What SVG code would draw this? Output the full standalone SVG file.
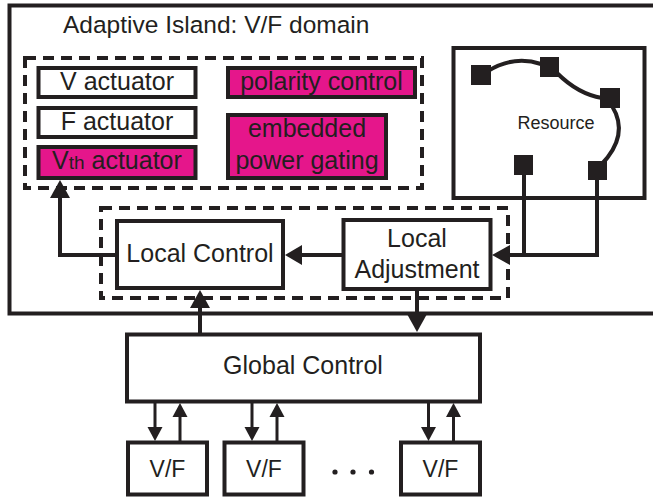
<svg xmlns="http://www.w3.org/2000/svg" width="653" height="501" viewBox="0 0 653 501">
<style>
  text { font-family: "Liberation Sans", Arial, sans-serif; fill: #231f20; }
  .box { fill: #fff; stroke: #231f20; stroke-width: 4; }
  .pink { fill: #e5168b; stroke: #231f20; stroke-width: 4; }
  .dash { fill: none; stroke: #231f20; stroke-width: 4; stroke-dasharray: 11 7; }
  .line { fill: none; stroke: #231f20; stroke-width: 4; }
  .thin { fill: none; stroke: #231f20; stroke-width: 3; }
  .head { fill: #231f20; }
  .sq { fill: #231f20; }
  .t25 { font-size: 25px; }
</style>
<rect width="653" height="501" fill="#fff"/>

<g id="island">
  <rect x="9.5" y="5.5" width="660" height="308" fill="none" stroke="#231f20" stroke-width="4"/>
  <text x="63" y="33" font-size="24.5px">Adaptive Island: V/F domain</text>
</g>

<g id="actuator-group">
  <rect class="dash" x="25" y="58" width="397" height="130"/>
</g>

<g id="v-actuator">
  <rect class="box" x="38.5" y="68" width="157" height="29"/>
  <text class="t25" x="117" y="90" text-anchor="middle">V actuator</text>
</g>
<g id="f-actuator">
  <rect class="box" x="38.5" y="108" width="157" height="29"/>
  <text class="t25" x="117" y="130" text-anchor="middle">F actuator</text>
</g>
<g id="vth-actuator">
  <rect class="pink" x="38.5" y="147" width="157" height="31"/>
  <text class="t25" x="52" y="169">V<tspan font-size="19px">th</tspan> actuator</text>
</g>
<g id="polarity-control">
  <rect class="pink" x="228" y="68" width="187" height="29"/>
  <text class="t25" x="321.5" y="90" text-anchor="middle">polarity control</text>
</g>
<g id="power-gating">
  <rect class="pink" x="228" y="115" width="158" height="63"/>
  <text class="t25" x="307" y="137" text-anchor="middle">embedded</text>
  <text class="t25" x="307" y="169" text-anchor="middle">power gating</text>
</g>

<g id="resource">
  <rect class="box" x="453.5" y="48" width="191" height="150"/>
  <path class="line" d="M488,71 Q514,55 541,64"/>
  <path class="line" d="M557,73 Q578,94 602,98"/>
  <path class="line" d="M612,106 Q630,135 601,165"/>
  <rect class="sq" x="471" y="65" width="20" height="20"/>
  <rect class="sq" x="540" y="57" width="19" height="20"/>
  <rect class="sq" x="600" y="88" width="20" height="20"/>
  <rect class="sq" x="514" y="155" width="19" height="20"/>
  <rect class="sq" x="588" y="161" width="19" height="19"/>
  <text x="556" y="129" font-size="18px" text-anchor="middle">Resource</text>
</g>

<g id="local-group">
  <rect class="dash" x="101" y="208" width="407" height="90"/>
</g>

<g id="local-control">
  <rect class="box" x="117" y="221" width="166" height="67"/>
  <text class="t25" x="200" y="262" text-anchor="middle">Local Control</text>
</g>
<g id="local-adjustment">
  <rect class="box" x="343.5" y="220" width="147" height="69"/>
  <text class="t25" x="417" y="247" text-anchor="middle">Local</text>
  <text class="t25" x="417" y="278" text-anchor="middle">Adjustment</text>
</g>

<g id="global-control">
  <rect class="box" x="127" y="334.5" width="353" height="67"/>
  <text class="t25" x="303" y="374" text-anchor="middle">Global Control</text>
</g>

<g id="vf-1">
  <rect class="box" x="128" y="442.5" width="79" height="52"/>
  <text x="167.5" y="477" font-size="23px" text-anchor="middle">V/F</text>
</g>
<g id="vf-2">
  <rect class="box" x="224.5" y="442.5" width="79" height="52"/>
  <text x="264" y="477" font-size="23px" text-anchor="middle">V/F</text>
</g>
<g id="vf-3">
  <rect class="box" x="401" y="442.5" width="79" height="52"/>
  <text x="440.5" y="477" font-size="23px" text-anchor="middle">V/F</text>
</g>
<g id="ellipsis">
  <circle cx="335" cy="472" r="2.6" fill="#231f20"/>
  <circle cx="353" cy="472" r="2.6" fill="#231f20"/>
  <circle cx="371.5" cy="472" r="2.6" fill="#231f20"/>
</g>

<g id="connectors">
  <path class="line" d="M524,175 V255 M597,180 V255 H508"/>
  <polygon class="head" points="492,255 510,245 510,265"/>
  <path class="line" d="M343,255 H298"/>
  <polygon class="head" points="285,255 302,245 302,265"/>
  <path class="line" d="M117,255 H60 V195"/>
  <polygon class="head" points="60,180 50,198 70,198"/>
  <path class="line" d="M200,334 V306"/>
  <polygon class="head" points="200,290 190,308 210,308"/>
  <path class="line" d="M417,289 V318"/>
  <polygon class="head" points="417,332 407,314 427,314"/>
  <path class="thin" d="M155,402 V430"/>
  <polygon class="head" points="155,441 147.5,427 162.5,427"/>
  <path class="thin" d="M180,441 V414"/>
  <polygon class="head" points="180,403 172.5,417 187.5,417"/>
  <path class="thin" d="M252,402 V430"/>
  <polygon class="head" points="252,441 244.5,427 259.5,427"/>
  <path class="thin" d="M277,441 V414"/>
  <polygon class="head" points="277,403 269.5,417 284.5,417"/>
  <path class="thin" d="M428.5,402 V430"/>
  <polygon class="head" points="428.5,441 421,427 436,427"/>
  <path class="thin" d="M453.5,441 V414"/>
  <polygon class="head" points="453.5,403 446,417 461,417"/>
</g>
</svg>
